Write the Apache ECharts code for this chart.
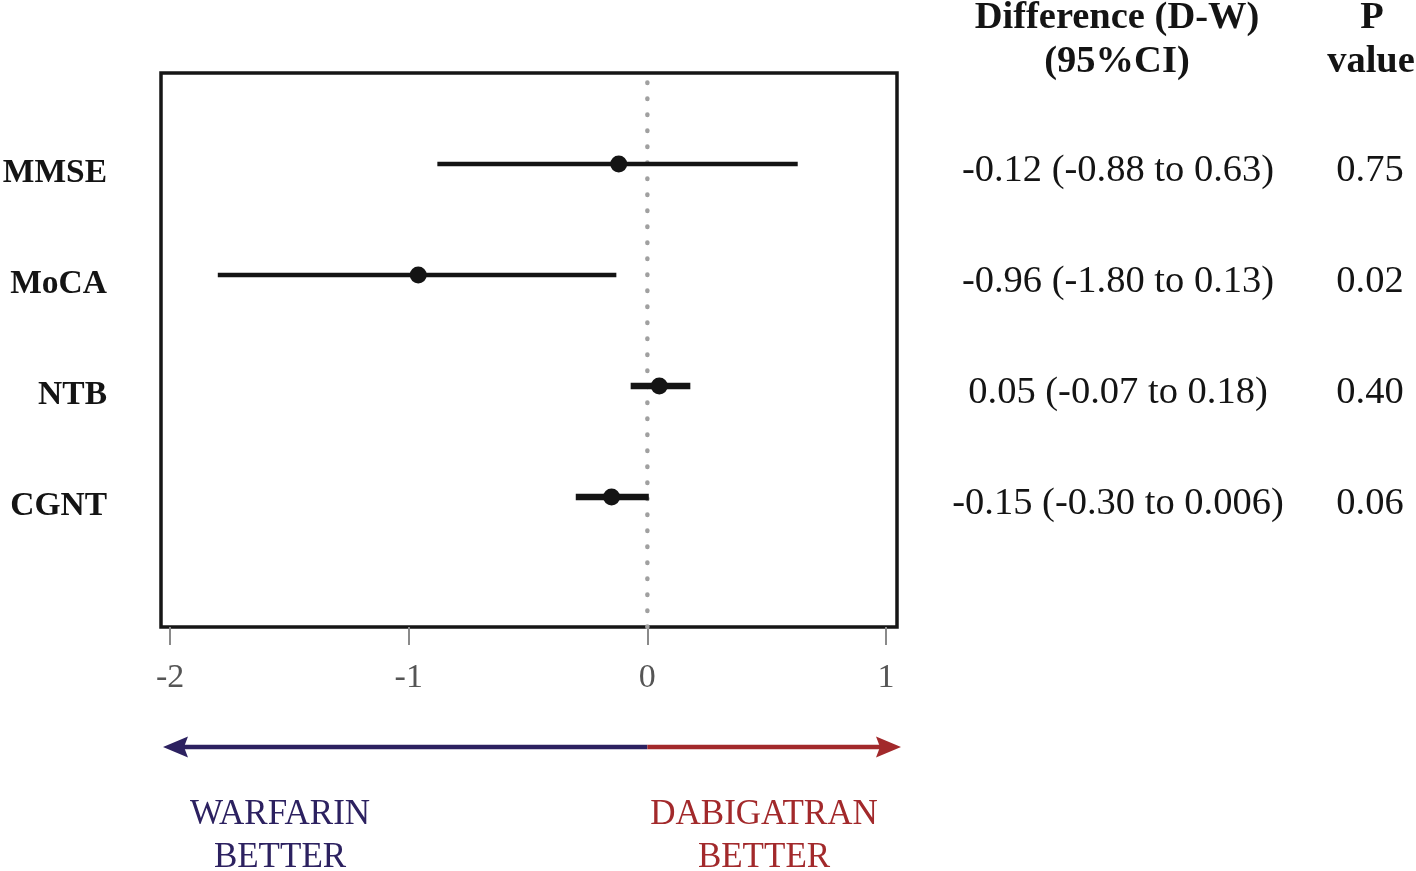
<!DOCTYPE html>
<html>
<head>
<meta charset="utf-8">
<script src="https://cdn.jsdelivr.net/npm/echarts@6/dist/echarts.min.js"></script>
<style>
  html, body { margin: 0; padding: 0; background: #ffffff; }
  #chart { width: 1416px; height: 871px; }
</style>
</head>
<body>
<div id="chart"></div>
<script>
// ---- data ----
const categories = ['MMSE', 'MoCA', 'NTB', 'CGNT'];
const estimates = [-0.12, -0.96, 0.05, -0.15];
const lowerCI = [-0.88, -1.80, -0.07, -0.30];
const upperCI = [0.63, -0.13, 0.18, 0.006];
const ciText = ['-0.12 (-0.88 to 0.63)', '-0.96 (-1.80 to 0.13)', '0.05 (-0.07 to 0.18)', '-0.15 (-0.30 to 0.006)'];
const pValues = ['0.75', '0.02', '0.40', '0.06'];
const xTickValues = [-2, -1, 0, 1];
const headerCI = ['Difference (D-W)', '(95%CI)'];
const headerP = ['P', 'value'];
const leftLabel = ['WARFARIN', 'BETTER'];
const rightLabel = ['DABIGATRAN', 'BETTER'];

// ---- style constants ----
const SERIF = "'Liberation Serif', 'Times New Roman', serif";
const NAVY = '#2c2160';
const RED = '#a2292b';
const INK = '#141414';
const ciLineWidths = [4.5, 4.5, 6.5, 6.5];
const labelNudge = 0.08; // row labels sit slightly below the row centre

const n = categories.length;
const rowY = categories.map((_, i) => n - i);
const xMin = -2.038, xMax = 1.046;
const yMin = -0.171, yMax = 4.82;

const chart = echarts.init(document.getElementById('chart'), null, { renderer: 'canvas' });

const option = {
  animation: false,
  backgroundColor: '#ffffff',
  grid: {
    left: 161, right: 519, top: 73, bottom: 244,
    outerBoundsMode: 'none', containLabel: false,
    show: true, borderColor: '#161616', borderWidth: 3.5, backgroundColor: 'transparent'
  },
  xAxis: {
    type: 'value', min: xMin, max: xMax,
    axisLine: { show: false, onZero: false },
    splitLine: { show: false },
    axisTick: { show: true, inside: false, customValues: xTickValues, length: 18, lineStyle: { color: '#8a8a8a', width: 2 } },
    axisLabel: {
      customValues: xTickValues, margin: 34, color: '#555555', fontSize: 34,
      fontFamily: SERIF, formatter: v => String(v)
    }
  },
  yAxis: [
    {
      type: 'value', min: yMin, max: yMax,
      axisLine: { show: false, onZero: false }, axisTick: { show: false }, splitLine: { show: false },
      axisLabel: {
        customValues: rowY.map(v => v - labelNudge), margin: 54, color: INK, fontSize: 33.5, fontWeight: 'bold',
        fontFamily: SERIF,
        formatter: v => categories[n - Math.round(v)]
      }
    },
    {
      type: 'value', min: yMin, max: yMax, position: 'right',
      axisLine: { show: false, onZero: false }, axisTick: { show: false }, splitLine: { show: false },
      axisLabel: {
        customValues: rowY, margin: 16, color: INK, fontFamily: SERIF,
        padding: [14, 0, 0, 0],
        formatter: v => '{ci|' + ciText[n - v] + '}{p|' + pValues[n - v] + '}',
        rich: {
          ci: { width: 410, align: 'center', fontSize: 38.5, fontFamily: SERIF, color: INK },
          p: { width: 94, align: 'center', fontSize: 38.5, fontFamily: SERIF, color: INK }
        }
      }
    }
  ],
  series: [
    {
      name: 'zero', type: 'line', symbol: 'none', silent: true,
      data: [[0, yMin], [0, yMax]],
      lineStyle: { color: '#a0a0a0', width: 4.5, type: [0.5, 15.5], cap: 'round' },
      z: 1
    },
    {
      name: 'ci', type: 'custom', silent: true,
      data: categories.map((_, i) => [lowerCI[i], upperCI[i], rowY[i]]),
      encode: { x: [0, 1], y: 2 },
      renderItem: (params, api) => {
        const p1 = api.coord([api.value(0), api.value(2)]);
        const p2 = api.coord([api.value(1), api.value(2)]);
        return {
          type: 'line',
          shape: { x1: p1[0], y1: p1[1], x2: p2[0], y2: p2[1] },
          style: { stroke: INK, lineWidth: ciLineWidths[params.dataIndex] }
        };
      },
      z: 2
    },
    {
      name: 'est', type: 'scatter', silent: true,
      data: categories.map((_, i) => [estimates[i], rowY[i]]),
      symbol: 'circle', symbolSize: 17,
      itemStyle: { color: INK, opacity: 1 },
      z: 3
    }
  ]
};
chart.setOption(option);

// ---- annotation graphics (arrow + text) ----
const zeroX = chart.convertToPixel({ gridIndex: 0 }, [0, 0])[0];
const arrowY = 747;
const leftTip = 163, rightTip = 901, headLen = 25, headHalf = 10.5;
const textStyle = (txt, x, y, color, size, weight) => ({
  type: 'text', x: x, y: y,
  style: { text: txt, fill: color, font: (weight || 'normal') + ' ' + size + 'px ' + SERIF, textAlign: 'center', textVerticalAlign: 'middle' }
});
chart.setOption({
  graphic: [
    { type: 'line', shape: { x1: leftTip + headLen - 4, y1: arrowY, x2: zeroX, y2: arrowY }, style: { stroke: NAVY, lineWidth: 4.5 } },
    { type: 'line', shape: { x1: zeroX, y1: arrowY, x2: rightTip - headLen + 4, y2: arrowY }, style: { stroke: RED, lineWidth: 4.5 } },
    { type: 'polygon', shape: { points: [[leftTip, arrowY], [leftTip + headLen, arrowY - headHalf], [leftTip + headLen - 4, arrowY], [leftTip + headLen, arrowY + headHalf]] }, style: { fill: NAVY } },
    { type: 'polygon', shape: { points: [[rightTip, arrowY], [rightTip - headLen, arrowY - headHalf], [rightTip - headLen + 4, arrowY], [rightTip - headLen, arrowY + headHalf]] }, style: { fill: RED } },
    textStyle(leftLabel[0], 280, 815, NAVY, 35),
    textStyle(leftLabel[1], 280, 858, NAVY, 35),
    textStyle(rightLabel[0], 764, 815, RED, 35),
    textStyle(rightLabel[1], 764, 858, RED, 35),
    textStyle(headerCI[0], 1117, 18, INK, 38.5, 'bold'),
    textStyle(headerCI[1], 1117, 62, INK, 38.5, 'bold'),
    textStyle(headerP[0], 1372, 18, INK, 38.5, 'bold'),
    textStyle(headerP[1], 1371, 62, INK, 38.5, 'bold')
  ]
});
</script>
</body>
</html>
